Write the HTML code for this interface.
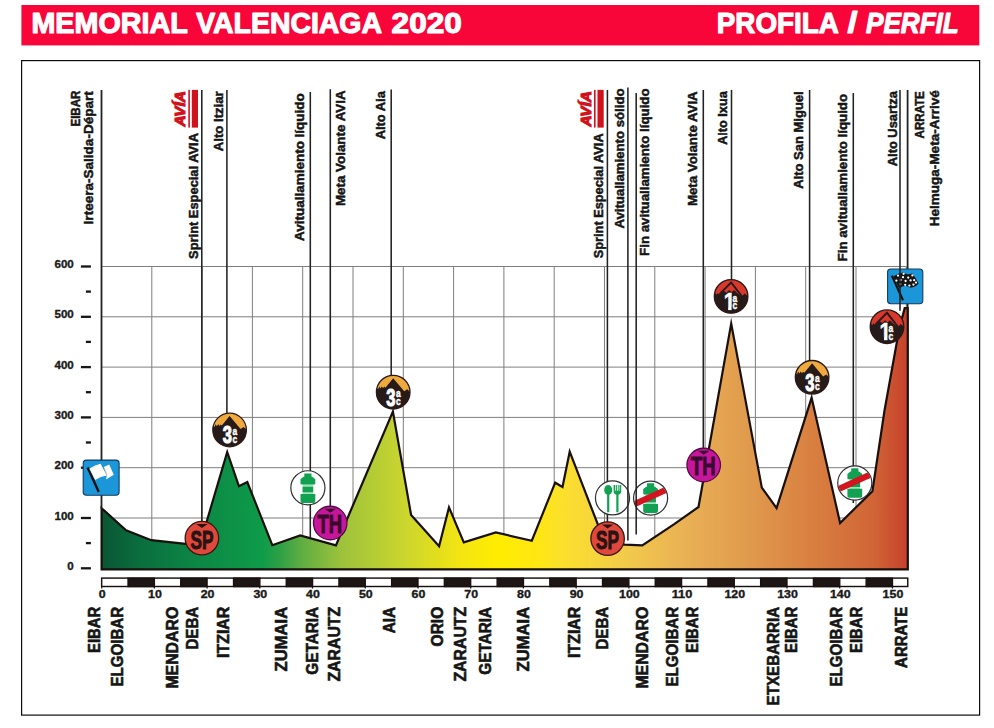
<!DOCTYPE html>
<html lang="eu">
<head>
<meta charset="utf-8">
<title>Memorial Valenciaga 2020 - Profila / Perfil</title>
<style>
html,body{margin:0;padding:0;background:#fff;}
body{width:994px;height:728px;overflow:hidden;font-family:"Liberation Sans", sans-serif;}
svg{display:block;font-family:"Liberation Sans", sans-serif;}
svg text{font-family:"Liberation Sans", sans-serif;}
</style>
</head>
<body>
<svg width="994" height="728" viewBox="0 0 994 728">
<rect width="994" height="728" fill="#fff"/>
<rect x="21.4" y="5" width="957.9" height="40.4" fill="#f8053a"/>
<text x="31.4" y="33.45" font-size="29.8" font-weight="700" fill="#fff" stroke="#fff" stroke-width="1.2" stroke-linejoin="round" textLength="156.4" lengthAdjust="spacingAndGlyphs">MEMORIAL</text>
<text x="196.2" y="33.45" font-size="29.8" font-weight="700" fill="#fff" stroke="#fff" stroke-width="1.2" stroke-linejoin="round" textLength="185.8" lengthAdjust="spacingAndGlyphs">VALENCIAGA</text>
<text x="391.6" y="33.45" font-size="29.8" font-weight="700" fill="#fff" stroke="#fff" stroke-width="1.2" stroke-linejoin="round" textLength="70.2" lengthAdjust="spacingAndGlyphs">2020</text>
<text x="716.8" y="33.45" font-size="29.8" font-weight="700" fill="#fff" stroke="#fff" stroke-width="1.2" stroke-linejoin="round" textLength="122.0" lengthAdjust="spacingAndGlyphs">PROFILA</text>
<text x="847.4" y="33.45" font-size="29.8" font-weight="700" fill="#fff" stroke="#fff" stroke-width="1.2" stroke-linejoin="round" textLength="10.0" lengthAdjust="spacingAndGlyphs">/</text>
<text x="866.0" y="33.45" font-size="29.8" font-weight="700" font-style="italic" fill="#fff" stroke="#fff" stroke-width="1.2" stroke-linejoin="round" textLength="92.8" lengthAdjust="spacingAndGlyphs">PERFIL</text>
<rect x="21.6" y="60.6" width="958" height="654.5" fill="#fff" stroke="#0c0c0c" stroke-width="1.2"/>
<path d="M101.5 266.5H906.3M101.5 316.8H906.3M101.5 367.1H906.3M101.5 417.4H906.3M101.5 467.7H906.3M101.5 518.0H906.3M101.5 568.3H906.3M101.5 266.5V568.3M151.8 266.5V568.3M202.1 266.5V568.3M252.4 266.5V568.3M302.7 266.5V568.3M353.0 266.5V568.3M403.3 266.5V568.3M453.6 266.5V568.3M503.9 266.5V568.3M554.2 266.5V568.3M604.5 266.5V568.3M654.8 266.5V568.3M705.1 266.5V568.3M755.4 266.5V568.3M805.7 266.5V568.3M856.0 266.5V568.3M906.3 266.5V568.3" stroke="#7e7e7e" stroke-width="1" fill="none"/>
<defs><linearGradient id="pg" gradientUnits="userSpaceOnUse" x1="101.5" y1="0" x2="908" y2="0">
<stop offset="-0.0006" stop-color="#0a5634"/>
<stop offset="0.0477" stop-color="#0a6e3e"/>
<stop offset="0.1221" stop-color="#0c8845"/>
<stop offset="0.1990" stop-color="#0e9b49"/>
<stop offset="0.2213" stop-color="#2fa046"/>
<stop offset="0.2474" stop-color="#5ead42"/>
<stop offset="0.2970" stop-color="#9cc23b"/>
<stop offset="0.3726" stop-color="#c9d52f"/>
<stop offset="0.4470" stop-color="#f4e512"/>
<stop offset="0.4916" stop-color="#ffed00"/>
<stop offset="0.5437" stop-color="#fee614"/>
<stop offset="0.5710" stop-color="#fbe02c"/>
<stop offset="0.6479" stop-color="#f2cb4a"/>
<stop offset="0.7260" stop-color="#e9b055"/>
<stop offset="0.8029" stop-color="#e09a4d"/>
<stop offset="0.8797" stop-color="#d98041"/>
<stop offset="0.9566" stop-color="#d06536"/>
<stop offset="1.0000" stop-color="#c6402b"/>
</linearGradient></defs>
<polygon points="101.6,508.2 126.1,530.4 151.3,540.2 185.6,543.8 200.0,544.2 227.2,452.0 238.9,486.2 247.3,482.0 272.3,545.2 300.2,535.4 335.9,545.4 392.9,411.5 411.1,515.0 439.1,546.3 449.0,507.4 463.8,542.4 495.8,532.5 531.8,540.7 555.2,482.7 562.5,487.0 569.7,451.7 605.0,543.0 625.0,544.7 642.3,545.3 674.6,523.9 698.5,507.0 731.2,323.6 761.8,487.6 776.6,508.1 811.6,397.8 840.1,523.0 872.4,491.2 884.6,410.0 899.4,328.0 904.7,308.2 907.8,308.2 907.8,569.4 101.6,569.4" fill="url(#pg)" stroke="#17100d" stroke-width="2.2" stroke-linejoin="miter" stroke-miterlimit="6"/>
<text x="73.8" y="569.9" font-size="11.6" font-weight="700" fill="#1a1a1a" stroke="#1a1a1a" stroke-width="0.35" text-anchor="end">0</text>
<path d="M80.9 568.3H90.9" stroke="#151515" stroke-width="2.3"/>
<path d="M85.9 543.1H90.9" stroke="#151515" stroke-width="2.3"/>
<text x="73.8" y="519.6" font-size="11.6" font-weight="700" fill="#1a1a1a" stroke="#1a1a1a" stroke-width="0.35" text-anchor="end">100</text>
<path d="M80.9 518.0H90.9" stroke="#151515" stroke-width="2.3"/>
<path d="M85.9 492.9H90.9" stroke="#151515" stroke-width="2.3"/>
<text x="73.8" y="469.3" font-size="11.6" font-weight="700" fill="#1a1a1a" stroke="#1a1a1a" stroke-width="0.35" text-anchor="end">200</text>
<path d="M80.9 467.7H90.9" stroke="#151515" stroke-width="2.3"/>
<path d="M85.9 442.5H90.9" stroke="#151515" stroke-width="2.3"/>
<text x="73.8" y="419.0" font-size="11.6" font-weight="700" fill="#1a1a1a" stroke="#1a1a1a" stroke-width="0.35" text-anchor="end">300</text>
<path d="M80.9 417.4H90.9" stroke="#151515" stroke-width="2.3"/>
<path d="M85.9 392.2H90.9" stroke="#151515" stroke-width="2.3"/>
<text x="73.8" y="368.7" font-size="11.6" font-weight="700" fill="#1a1a1a" stroke="#1a1a1a" stroke-width="0.35" text-anchor="end">400</text>
<path d="M80.9 367.1H90.9" stroke="#151515" stroke-width="2.3"/>
<path d="M85.9 341.9H90.9" stroke="#151515" stroke-width="2.3"/>
<text x="73.8" y="318.4" font-size="11.6" font-weight="700" fill="#1a1a1a" stroke="#1a1a1a" stroke-width="0.35" text-anchor="end">500</text>
<path d="M80.9 316.8H90.9" stroke="#151515" stroke-width="2.3"/>
<path d="M85.9 291.6H90.9" stroke="#151515" stroke-width="2.3"/>
<text x="73.8" y="268.1" font-size="11.6" font-weight="700" fill="#1a1a1a" stroke="#1a1a1a" stroke-width="0.35" text-anchor="end">600</text>
<path d="M80.9 266.5H90.9" stroke="#151515" stroke-width="2.3"/>
<path d="M101.5 90.0V509.0" stroke="#222" stroke-width="1.8" fill="none"/>
<path d="M201.8 90.0V522.0" stroke="#222" stroke-width="1.55" fill="none"/>
<path d="M226.9 90.0V414.0" stroke="#222" stroke-width="1.55" fill="none"/>
<path d="M310.3 92.0V538.0" stroke="#222" stroke-width="1.55" fill="none"/>
<path d="M330.3 89.3V507.0" stroke="#222" stroke-width="1.55" fill="none"/>
<path d="M391.2 89.5V376.0" stroke="#222" stroke-width="1.55" fill="none"/>
<path d="M607.4 90.0V522.0" stroke="#222" stroke-width="1.55" fill="none"/>
<path d="M703.3 90.0V449.0" stroke="#222" stroke-width="1.55" fill="none"/>
<path d="M731.5 90.0V280.0" stroke="#222" stroke-width="1.55" fill="none"/>
<path d="M809.6 90.0V362.0" stroke="#222" stroke-width="1.55" fill="none"/>
<path d="M853.3 92.9V503.0" stroke="#222" stroke-width="1.55" fill="none"/>
<path d="M907.6 90.0V309.0" stroke="#222" stroke-width="1.8" fill="none"/>
<g transform="translate(83.2 460.1)"><rect width="35.9" height="35.2" rx="3.2" fill="#1b96d8" stroke="#143a5e" stroke-width="1.1"/><path d="M4.4 7.4L15.6 32" stroke="#111" stroke-width="2.4" fill="none"/><path d="M6.2 8.6Q12 4.6 17.4 3.6L23.6 15.4Q17.6 16.4 12 19.8Z" fill="#fff"/><path d="M20.6 6.8L26 4.4L30.6 14.6L22.8 19.4L23.6 15.4Z" fill="#fff"/><path d="M20.8 7.4L24 15.2" stroke="#c9a79a" stroke-width="0.7" fill="none"/></g>
<g transform="translate(887.6 269)"><rect width="35.2" height="34.7" rx="3.2" fill="#1b96d8" stroke="#143a5e" stroke-width="1.1"/><path d="M4.2 6.6L15.4 31.2" stroke="#111" stroke-width="2.2" fill="none"/><path d="M5.6 7.6Q11 4 15.4 3.4Q20 6.4 24.6 4.2Q28.6 9.4 31 14.6Q26.6 19.4 22 18.4Q17.4 14.6 11.6 19.6Z" fill="#151515"/><circle cx="10.4" cy="6.6" r="1.15" fill="#fff"/><circle cx="15.4" cy="8.2" r="1.15" fill="#fff"/><circle cx="13" cy="11" r="1.15" fill="#fff"/><circle cx="8.8" cy="11.6" r="1.15" fill="#fff"/><circle cx="18" cy="12" r="1.15" fill="#fff"/><circle cx="20.6" cy="8.6" r="1.15" fill="#fff"/><circle cx="24.8" cy="6.4" r="1.15" fill="#fff"/><circle cx="23" cy="11.4" r="1.15" fill="#fff"/><circle cx="26.6" cy="11.2" r="1.15" fill="#fff"/><circle cx="12.6" cy="15.2" r="1.15" fill="#fff"/><circle cx="17.6" cy="15.8" r="1.15" fill="#fff"/><circle cx="21.8" cy="16.6" r="1.15" fill="#fff"/><circle cx="25.8" cy="15.6" r="1.15" fill="#fff"/><circle cx="28.4" cy="13.6" r="1.15" fill="#fff"/><circle cx="16" cy="4.8" r="1.15" fill="#fff"/></g>
<g transform="translate(229.6 430.0)"><clipPath id="c229"><circle r="16.8"/></clipPath><circle r="16.8" fill="#f0a93c"/><g clip-path="url(#c229)"><path d="M-18 -2 L-16.2 -4 L-15.1 -2.9 L-14 -5.7 L-12.7 -3.8 L-11.4 -5.9 L-10.2 -4 L-9 -5.6 L-7.8 -4.5 L0 -14 L11 -0.9 L14.1 -2.9 L18 0.8 V19 H-18Z" fill="#271b1a"/></g><circle r="16.8" fill="none" stroke="#2a1a17" stroke-width="1.3"/><text x="-6.9" y="13.3" font-size="23.6" font-weight="700" fill="#fff" stroke="#fff" stroke-width="1.1" stroke-linejoin="round" textLength="9.2" lengthAdjust="spacingAndGlyphs">3</text><text x="2.8" y="4.6" font-size="10.2" font-weight="700" fill="#fff" stroke="#fff" stroke-width="0.4" stroke-linejoin="round" textLength="4.7" lengthAdjust="spacingAndGlyphs">a</text><text x="2.8" y="12.5" font-size="10.2" font-weight="700" fill="#fff" stroke="#fff" stroke-width="0.4" stroke-linejoin="round" textLength="4.7" lengthAdjust="spacingAndGlyphs">c</text></g>
<g transform="translate(393.2 392.2)"><clipPath id="c393"><circle r="16.8"/></clipPath><circle r="16.8" fill="#f0a93c"/><g clip-path="url(#c393)"><path d="M-18 -2 L-16.2 -4 L-15.1 -2.9 L-14 -5.7 L-12.7 -3.8 L-11.4 -5.9 L-10.2 -4 L-9 -5.6 L-7.8 -4.5 L0 -14 L11 -0.9 L14.1 -2.9 L18 0.8 V19 H-18Z" fill="#271b1a"/></g><circle r="16.8" fill="none" stroke="#2a1a17" stroke-width="1.3"/><text x="-6.9" y="13.3" font-size="23.6" font-weight="700" fill="#fff" stroke="#fff" stroke-width="1.1" stroke-linejoin="round" textLength="9.2" lengthAdjust="spacingAndGlyphs">3</text><text x="2.8" y="4.6" font-size="10.2" font-weight="700" fill="#fff" stroke="#fff" stroke-width="0.4" stroke-linejoin="round" textLength="4.7" lengthAdjust="spacingAndGlyphs">a</text><text x="2.8" y="12.5" font-size="10.2" font-weight="700" fill="#fff" stroke="#fff" stroke-width="0.4" stroke-linejoin="round" textLength="4.7" lengthAdjust="spacingAndGlyphs">c</text></g>
<g transform="translate(812.1 377.3)"><clipPath id="c812"><circle r="16.8"/></clipPath><circle r="16.8" fill="#f0a93c"/><g clip-path="url(#c812)"><path d="M-18 -2 L-16.2 -4 L-15.1 -2.9 L-14 -5.7 L-12.7 -3.8 L-11.4 -5.9 L-10.2 -4 L-9 -5.6 L-7.8 -4.5 L0 -14 L11 -0.9 L14.1 -2.9 L18 0.8 V19 H-18Z" fill="#271b1a"/></g><circle r="16.8" fill="none" stroke="#2a1a17" stroke-width="1.3"/><text x="-6.9" y="13.3" font-size="23.6" font-weight="700" fill="#fff" stroke="#fff" stroke-width="1.1" stroke-linejoin="round" textLength="9.2" lengthAdjust="spacingAndGlyphs">3</text><text x="2.8" y="4.6" font-size="10.2" font-weight="700" fill="#fff" stroke="#fff" stroke-width="0.4" stroke-linejoin="round" textLength="4.7" lengthAdjust="spacingAndGlyphs">a</text><text x="2.8" y="12.5" font-size="10.2" font-weight="700" fill="#fff" stroke="#fff" stroke-width="0.4" stroke-linejoin="round" textLength="4.7" lengthAdjust="spacingAndGlyphs">c</text></g>
<g transform="translate(731.1 296.4)"><clipPath id="c731"><circle r="16.8"/></clipPath><circle r="16.8" fill="#da382c"/><g clip-path="url(#c731)"><path d="M-18 -1.4 L-15.6 -2.8 L-14.6 -1.6 L-13.4 -3.4 L-12.4 -2.2 L-11.2 -4 L-10 -3 L-7.4 -5.6 L-4.6 -3.6 L-2 -6.4 L0.6 -4.4 L3 -6.4 L6 -3.4 L10.6 0.2 L13.7 -2.8 L18 0.8 V19 H-18Z" fill="#271b1a"/><path d="M-10.6 -3.2 L0 -13.9 L11 0.2" fill="none" stroke="#271b1a" stroke-width="1.9" stroke-linejoin="miter"/></g><circle r="16.8" fill="none" stroke="#2a1a17" stroke-width="1.3"/><clipPath id="k731"><rect x="-9" y="-6" width="10" height="16.4"/><rect x="-2.95" y="10" width="3.4" height="4"/></clipPath><text clip-path="url(#k731)" x="-7.44" y="13.15" font-size="23.6" font-weight="700" fill="#fff" stroke="#fff" stroke-width="0.5" textLength="11.4" lengthAdjust="spacingAndGlyphs">1</text><text x="1.5" y="5.3" font-size="10.2" font-weight="700" fill="#fff" stroke="#fff" stroke-width="0.4" stroke-linejoin="round" textLength="4.7" lengthAdjust="spacingAndGlyphs">a</text><text x="1.5" y="13.1" font-size="10.2" font-weight="700" fill="#fff" stroke="#fff" stroke-width="0.4" stroke-linejoin="round" textLength="4.7" lengthAdjust="spacingAndGlyphs">c</text></g>
<g transform="translate(887.0 326.7)"><clipPath id="c887"><circle r="16.8"/></clipPath><circle r="16.8" fill="#da382c"/><g clip-path="url(#c887)"><path d="M-18 -1.4 L-15.6 -2.8 L-14.6 -1.6 L-13.4 -3.4 L-12.4 -2.2 L-11.2 -4 L-10 -3 L-7.4 -5.6 L-4.6 -3.6 L-2 -6.4 L0.6 -4.4 L3 -6.4 L6 -3.4 L10.6 0.2 L13.7 -2.8 L18 0.8 V19 H-18Z" fill="#271b1a"/><path d="M-10.6 -3.2 L0 -13.9 L11 0.2" fill="none" stroke="#271b1a" stroke-width="1.9" stroke-linejoin="miter"/></g><circle r="16.8" fill="none" stroke="#2a1a17" stroke-width="1.3"/><clipPath id="k887"><rect x="-9" y="-6" width="10" height="16.4"/><rect x="-2.95" y="10" width="3.4" height="4"/></clipPath><text clip-path="url(#k887)" x="-7.44" y="13.15" font-size="23.6" font-weight="700" fill="#fff" stroke="#fff" stroke-width="0.5" textLength="11.4" lengthAdjust="spacingAndGlyphs">1</text><text x="1.5" y="5.3" font-size="10.2" font-weight="700" fill="#fff" stroke="#fff" stroke-width="0.4" stroke-linejoin="round" textLength="4.7" lengthAdjust="spacingAndGlyphs">a</text><text x="1.5" y="13.1" font-size="10.2" font-weight="700" fill="#fff" stroke="#fff" stroke-width="0.4" stroke-linejoin="round" textLength="4.7" lengthAdjust="spacingAndGlyphs">c</text></g>
<g transform="translate(307.9 487.8)"><circle r="17.05" fill="#fff" stroke="#2e2e2e" stroke-width="1.2"/><path d="M-5.3 -3.6H5.3V6.6H-5.3Z" fill="#9fe3bd"/><path d="M-3.6 -14.4H3.6V-10.6H-3.6ZM-4.4 -11H4.4L7.4 -8.6V-4.2Q7.4 -3.3 6.4 -3.3H-6.4Q-7.4 -3.3 -7.4 -4.2V-8.6ZM-5.3 -1H5.3V4.5H-5.3ZM-7.4 6.2H7.4V13.4Q7.4 15.2 5.6 15.2H-5.6Q-7.4 15.2 -7.4 13.4Z" fill="#12a150"/></g>
<g transform="translate(612.5 497.9)"><circle r="17.05" fill="#fff" stroke="#2e2e2e" stroke-width="1.2"/><ellipse cx="-4.3" cy="-7.9" rx="4" ry="4.9" fill="#12a150"/><path d="M-4.3 -4V14.3" stroke="#12a150" stroke-width="2.2" fill="none"/><path d="M1.1 -12.8H2.8V-7.2H3.6V-12.8H4.5V-7.2H5.3V-12.8H6.2V-7.2H7V-12.8H8.7V-7.4Q8.7 -3.6 6 -3.2V14.3H3.8V-3.2Q1.1 -3.6 1.1 -7.4Z" fill="#12a150"/></g>
<g transform="translate(650.6 498.1)"><circle r="17.05" fill="#fff" stroke="#2e2e2e" stroke-width="1.2"/><clipPath id="b650"><circle r="16.55"/></clipPath><g transform="translate(0 -0.4)"><path d="M-5.3 -3.6H5.3V6.6H-5.3Z" fill="#9fe3bd"/><path d="M-3.6 -14.4H3.6V-10.6H-3.6ZM-4.4 -11H4.4L7.4 -8.6V-4.2Q7.4 -3.3 6.4 -3.3H-6.4Q-7.4 -3.3 -7.4 -4.2V-8.6ZM-5.3 -1H5.3V4.5H-5.3ZM-7.4 6.2H7.4V13.4Q7.4 15.2 5.6 15.2H-5.6Q-7.4 15.2 -7.4 13.4Z" fill="#12a150"/></g><path clip-path="url(#b650)" d="M-18.2 7L18.2 -9.6" stroke="#d2151f" stroke-width="6.1" fill="none"/></g>
<g transform="translate(854.8 483.0)"><circle r="17.05" fill="#fff" stroke="#2e2e2e" stroke-width="1.2"/><clipPath id="b854"><circle r="16.55"/></clipPath><g transform="translate(0 -0.4)"><path d="M-5.3 -3.6H5.3V6.6H-5.3Z" fill="#9fe3bd"/><path d="M-3.6 -14.4H3.6V-10.6H-3.6ZM-4.4 -11H4.4L7.4 -8.6V-4.2Q7.4 -3.3 6.4 -3.3H-6.4Q-7.4 -3.3 -7.4 -4.2V-8.6ZM-5.3 -1H5.3V4.5H-5.3ZM-7.4 6.2H7.4V13.4Q7.4 15.2 5.6 15.2H-5.6Q-7.4 15.2 -7.4 13.4Z" fill="#12a150"/></g><path clip-path="url(#b854)" d="M-18.2 7L18.2 -9.6" stroke="#d2151f" stroke-width="6.1" fill="none"/></g>
<g transform="translate(201.9 538.2)"><circle r="16.75" fill="#e0483b" stroke="#3a1712" stroke-width="1.3"/><path d="M-5.8 -14.2H5.8L0 -10.2Z" fill="#2a1413"/><text x="-11.5" y="10.4" font-size="25.8" font-weight="700" fill="#2a1413" stroke="#2a1413" stroke-width="1" stroke-linejoin="round" textLength="23.0" lengthAdjust="spacingAndGlyphs">SP</text></g>
<g transform="translate(607.6 538.6)"><circle r="16.75" fill="#e0483b" stroke="#3a1712" stroke-width="1.3"/><path d="M-5.8 -14.2H5.8L0 -10.2Z" fill="#2a1413"/><text x="-11.5" y="10.4" font-size="25.8" font-weight="700" fill="#2a1413" stroke="#2a1413" stroke-width="1" stroke-linejoin="round" textLength="23.0" lengthAdjust="spacingAndGlyphs">SP</text></g>
<g transform="translate(330.2 523.0)"><circle r="16.75" fill="#c6169b" stroke="#560a45" stroke-width="1.3"/><path d="M-5.8 -14.2H5.8L0 -10.2Z" fill="#3a0a2e"/><text x="-12.8" y="10.4" font-size="25.8" font-weight="700" fill="#3a0a2e" stroke="#3a0a2e" stroke-width="1" stroke-linejoin="round" textLength="24.6" lengthAdjust="spacingAndGlyphs">TH</text></g>
<g transform="translate(703.7 465.0)"><circle r="16.75" fill="#c6169b" stroke="#560a45" stroke-width="1.3"/><path d="M-5.8 -14.2H5.8L0 -10.2Z" fill="#3a0a2e"/><text x="-12.8" y="10.4" font-size="25.8" font-weight="700" fill="#3a0a2e" stroke="#3a0a2e" stroke-width="1" stroke-linejoin="round" textLength="24.6" lengthAdjust="spacingAndGlyphs">TH</text></g>
<path d="M627.9 87.4V540.5" stroke="#222" stroke-width="1.55" fill="none"/>
<path d="M636.2 92.9V534.5" stroke="#222" stroke-width="1.55" fill="none"/>
<path d="M900.0 90.0V310.8" stroke="#222" stroke-width="1.55" fill="none"/>
<rect x="101.65" y="578.1" width="806.10" height="8.4" fill="#fff" stroke="#17100f" stroke-width="1.45"/>
<path d="M128.0 578.1h26.4v8.4h-26.4zM180.7 578.1h26.4v8.4h-26.4zM233.5 578.1h26.4v8.4h-26.4zM286.2 578.1h26.4v8.4h-26.4zM338.9 578.1h26.4v8.4h-26.4zM391.6 578.1h26.4v8.4h-26.4zM444.3 578.1h26.4v8.4h-26.4zM497.1 578.1h26.4v8.4h-26.4zM549.8 578.1h26.4v8.4h-26.4zM602.5 578.1h26.4v8.4h-26.4zM655.2 578.1h26.4v8.4h-26.4zM707.9 578.1h26.4v8.4h-26.4zM760.6 578.1h26.4v8.4h-26.4zM813.4 578.1h26.4v8.4h-26.4zM866.1 578.1h26.4v8.4h-26.4z" fill="#1d1615" stroke="#17100f" stroke-width="1.3"/>
<path d="M101.7 586.5v2M154.4 586.5v2M207.1 586.5v2M259.8 586.5v2M312.5 586.5v2M365.2 586.5v2M418.0 586.5v2M470.7 586.5v2M523.4 586.5v2M576.1 586.5v2M628.9 586.5v2M681.6 586.5v2M734.3 586.5v2M787.0 586.5v2M839.7 586.5v2M892.5 586.5v2" stroke="#17100f" stroke-width="1.2" fill="none"/>
<text x="98.7" y="597.75" font-size="10.3" font-weight="700" fill="#1a1a1a" stroke="#1a1a1a" stroke-width="0.35" textLength="6.9" lengthAdjust="spacingAndGlyphs">0</text>
<text x="148.0" y="597.75" font-size="10.3" font-weight="700" fill="#1a1a1a" stroke="#1a1a1a" stroke-width="0.35" textLength="13.8" lengthAdjust="spacingAndGlyphs">10</text>
<text x="200.7" y="597.75" font-size="10.3" font-weight="700" fill="#1a1a1a" stroke="#1a1a1a" stroke-width="0.35" textLength="13.8" lengthAdjust="spacingAndGlyphs">20</text>
<text x="253.4" y="597.75" font-size="10.3" font-weight="700" fill="#1a1a1a" stroke="#1a1a1a" stroke-width="0.35" textLength="13.8" lengthAdjust="spacingAndGlyphs">30</text>
<text x="306.1" y="597.75" font-size="10.3" font-weight="700" fill="#1a1a1a" stroke="#1a1a1a" stroke-width="0.35" textLength="13.8" lengthAdjust="spacingAndGlyphs">40</text>
<text x="358.9" y="597.75" font-size="10.3" font-weight="700" fill="#1a1a1a" stroke="#1a1a1a" stroke-width="0.35" textLength="13.8" lengthAdjust="spacingAndGlyphs">50</text>
<text x="411.6" y="597.75" font-size="10.3" font-weight="700" fill="#1a1a1a" stroke="#1a1a1a" stroke-width="0.35" textLength="13.8" lengthAdjust="spacingAndGlyphs">60</text>
<text x="464.3" y="597.75" font-size="10.3" font-weight="700" fill="#1a1a1a" stroke="#1a1a1a" stroke-width="0.35" textLength="13.8" lengthAdjust="spacingAndGlyphs">70</text>
<text x="517.0" y="597.75" font-size="10.3" font-weight="700" fill="#1a1a1a" stroke="#1a1a1a" stroke-width="0.35" textLength="13.8" lengthAdjust="spacingAndGlyphs">80</text>
<text x="569.7" y="597.75" font-size="10.3" font-weight="700" fill="#1a1a1a" stroke="#1a1a1a" stroke-width="0.35" textLength="13.8" lengthAdjust="spacingAndGlyphs">90</text>
<text x="619.0" y="597.75" font-size="10.3" font-weight="700" fill="#1a1a1a" stroke="#1a1a1a" stroke-width="0.35" textLength="20.7" lengthAdjust="spacingAndGlyphs">100</text>
<text x="671.7" y="597.75" font-size="10.3" font-weight="700" fill="#1a1a1a" stroke="#1a1a1a" stroke-width="0.35" textLength="20.7" lengthAdjust="spacingAndGlyphs">110</text>
<text x="724.4" y="597.75" font-size="10.3" font-weight="700" fill="#1a1a1a" stroke="#1a1a1a" stroke-width="0.35" textLength="20.7" lengthAdjust="spacingAndGlyphs">120</text>
<text x="777.2" y="597.75" font-size="10.3" font-weight="700" fill="#1a1a1a" stroke="#1a1a1a" stroke-width="0.35" textLength="20.7" lengthAdjust="spacingAndGlyphs">130</text>
<text x="829.9" y="597.75" font-size="10.3" font-weight="700" fill="#1a1a1a" stroke="#1a1a1a" stroke-width="0.35" textLength="20.7" lengthAdjust="spacingAndGlyphs">140</text>
<text x="882.6" y="597.75" font-size="10.3" font-weight="700" fill="#1a1a1a" stroke="#1a1a1a" stroke-width="0.35" textLength="20.7" lengthAdjust="spacingAndGlyphs">150</text>
<text transform="translate(79.75 126.5) rotate(-90)" font-size="13.4" font-weight="700" fill="#151515" stroke="#151515" stroke-width="0.5" stroke-linejoin="round" textLength="35.8" lengthAdjust="spacingAndGlyphs">EIBAR</text>
<text transform="translate(93.25 224.4) rotate(-90)" font-size="13.4" font-weight="700" fill="#151515" stroke="#151515" stroke-width="0.5" stroke-linejoin="round" textLength="133.2" lengthAdjust="spacingAndGlyphs">Irteera-Salida-Départ</text>
<text transform="translate(197.65 258.9) rotate(-90)" font-size="13.4" font-weight="700" fill="#151515" stroke="#151515" stroke-width="0.5" stroke-linejoin="round" textLength="125.9" lengthAdjust="spacingAndGlyphs">Sprint Especial AVIA</text>
<text transform="translate(223.45 151.2) rotate(-90)" font-size="13.4" font-weight="700" fill="#151515" stroke="#151515" stroke-width="0.5" stroke-linejoin="round" textLength="59.9" lengthAdjust="spacingAndGlyphs">Alto Itziar</text>
<text transform="translate(303.95 241.0) rotate(-90)" font-size="13.4" font-weight="700" fill="#151515" stroke="#151515" stroke-width="0.5" stroke-linejoin="round" textLength="147.8" lengthAdjust="spacingAndGlyphs">Avituallamiento líquido</text>
<text transform="translate(345.15 206.1) rotate(-90)" font-size="13.4" font-weight="700" fill="#151515" stroke="#151515" stroke-width="0.5" stroke-linejoin="round" textLength="115.7" lengthAdjust="spacingAndGlyphs">Meta Volante AVIA</text>
<text transform="translate(384.95 139.3) rotate(-90)" font-size="13.4" font-weight="700" fill="#151515" stroke="#151515" stroke-width="0.5" stroke-linejoin="round" textLength="48.1" lengthAdjust="spacingAndGlyphs">Alto Aia</text>
<text transform="translate(603.15 258.2) rotate(-90)" font-size="13.4" font-weight="700" fill="#151515" stroke="#151515" stroke-width="0.5" stroke-linejoin="round" textLength="124.8" lengthAdjust="spacingAndGlyphs">Sprint Especial AVIA</text>
<text transform="translate(624.35 228.6) rotate(-90)" font-size="13.4" font-weight="700" fill="#151515" stroke="#151515" stroke-width="0.5" stroke-linejoin="round" textLength="140.1" lengthAdjust="spacingAndGlyphs">Avituallamiento sólido</text>
<text transform="translate(649.05 255.9) rotate(-90)" font-size="13.4" font-weight="700" fill="#151515" stroke="#151515" stroke-width="0.5" stroke-linejoin="round" textLength="167.5" lengthAdjust="spacingAndGlyphs">Fin avituallamiento líquido</text>
<text transform="translate(697.15 206.1) rotate(-90)" font-size="13.4" font-weight="700" fill="#151515" stroke="#151515" stroke-width="0.5" stroke-linejoin="round" textLength="114.8" lengthAdjust="spacingAndGlyphs">Meta Volante AVIA</text>
<text transform="translate(726.75 144.8) rotate(-90)" font-size="13.4" font-weight="700" fill="#151515" stroke="#151515" stroke-width="0.5" stroke-linejoin="round" textLength="53.5" lengthAdjust="spacingAndGlyphs">Alto Ixua</text>
<text transform="translate(803.15 188.8) rotate(-90)" font-size="13.4" font-weight="700" fill="#151515" stroke="#151515" stroke-width="0.5" stroke-linejoin="round" textLength="97.5" lengthAdjust="spacingAndGlyphs">Alto San Miguel</text>
<text transform="translate(847.05 261.4) rotate(-90)" font-size="13.4" font-weight="700" fill="#151515" stroke="#151515" stroke-width="0.5" stroke-linejoin="round" textLength="167.5" lengthAdjust="spacingAndGlyphs">Fin avituallamiento líquido</text>
<text transform="translate(896.55 166.2) rotate(-90)" font-size="13.4" font-weight="700" fill="#151515" stroke="#151515" stroke-width="0.5" stroke-linejoin="round" textLength="75.0" lengthAdjust="spacingAndGlyphs">Alto Usartza</text>
<text transform="translate(923.95 138.4) rotate(-90)" font-size="13.4" font-weight="700" fill="#151515" stroke="#151515" stroke-width="0.5" stroke-linejoin="round" textLength="47.2" lengthAdjust="spacingAndGlyphs">ARRATE</text>
<text transform="translate(938.55 226.3) rotate(-90)" font-size="13.4" font-weight="700" fill="#151515" stroke="#151515" stroke-width="0.5" stroke-linejoin="round" textLength="136.1" lengthAdjust="spacingAndGlyphs">Helmuga-Meta-Arrivé</text>
<text transform="translate(100.30 652.9) rotate(-90)" font-size="16.3" font-weight="700" fill="#151515" stroke="#151515" stroke-width="0.6" stroke-linejoin="round" textLength="46.1" lengthAdjust="spacingAndGlyphs">EIBAR</text>
<text transform="translate(123.00 686.6) rotate(-90)" font-size="16.3" font-weight="700" fill="#151515" stroke="#151515" stroke-width="0.6" stroke-linejoin="round" textLength="79.8" lengthAdjust="spacingAndGlyphs">ELGOIBAR</text>
<text transform="translate(178.30 688.6) rotate(-90)" font-size="16.3" font-weight="700" fill="#151515" stroke="#151515" stroke-width="0.6" stroke-linejoin="round" textLength="81.8" lengthAdjust="spacingAndGlyphs">MENDARO</text>
<text transform="translate(198.40 649.6) rotate(-90)" font-size="16.3" font-weight="700" fill="#151515" stroke="#151515" stroke-width="0.6" stroke-linejoin="round" textLength="42.8" lengthAdjust="spacingAndGlyphs">DEBA</text>
<text transform="translate(228.60 657.9) rotate(-90)" font-size="16.3" font-weight="700" fill="#151515" stroke="#151515" stroke-width="0.6" stroke-linejoin="round" textLength="51.1" lengthAdjust="spacingAndGlyphs">ITZIAR</text>
<text transform="translate(286.80 671.5) rotate(-90)" font-size="16.3" font-weight="700" fill="#151515" stroke="#151515" stroke-width="0.6" stroke-linejoin="round" textLength="64.7" lengthAdjust="spacingAndGlyphs">ZUMAIA</text>
<text transform="translate(317.80 674.8) rotate(-90)" font-size="16.3" font-weight="700" fill="#151515" stroke="#151515" stroke-width="0.6" stroke-linejoin="round" textLength="68.0" lengthAdjust="spacingAndGlyphs">GETARIA</text>
<text transform="translate(340.00 681.6) rotate(-90)" font-size="16.3" font-weight="700" fill="#151515" stroke="#151515" stroke-width="0.6" stroke-linejoin="round" textLength="74.8" lengthAdjust="spacingAndGlyphs">ZARAUTZ</text>
<text transform="translate(395.30 633.3) rotate(-90)" font-size="16.3" font-weight="700" fill="#151515" stroke="#151515" stroke-width="0.6" stroke-linejoin="round" textLength="26.5" lengthAdjust="spacingAndGlyphs">AIA</text>
<text transform="translate(443.10 646.4) rotate(-90)" font-size="16.3" font-weight="700" fill="#151515" stroke="#151515" stroke-width="0.6" stroke-linejoin="round" textLength="39.6" lengthAdjust="spacingAndGlyphs">ORIO</text>
<text transform="translate(465.70 681.6) rotate(-90)" font-size="16.3" font-weight="700" fill="#151515" stroke="#151515" stroke-width="0.6" stroke-linejoin="round" textLength="74.8" lengthAdjust="spacingAndGlyphs">ZARAUTZ</text>
<text transform="translate(490.90 674.8) rotate(-90)" font-size="16.3" font-weight="700" fill="#151515" stroke="#151515" stroke-width="0.6" stroke-linejoin="round" textLength="68.0" lengthAdjust="spacingAndGlyphs">GETARIA</text>
<text transform="translate(528.50 671.5) rotate(-90)" font-size="16.3" font-weight="700" fill="#151515" stroke="#151515" stroke-width="0.6" stroke-linejoin="round" textLength="64.7" lengthAdjust="spacingAndGlyphs">ZUMAIA</text>
<text transform="translate(579.60 657.9) rotate(-90)" font-size="16.3" font-weight="700" fill="#151515" stroke="#151515" stroke-width="0.6" stroke-linejoin="round" textLength="51.1" lengthAdjust="spacingAndGlyphs">ITZIAR</text>
<text transform="translate(607.50 649.6) rotate(-90)" font-size="16.3" font-weight="700" fill="#151515" stroke="#151515" stroke-width="0.6" stroke-linejoin="round" textLength="42.8" lengthAdjust="spacingAndGlyphs">DEBA</text>
<text transform="translate(647.70 688.6) rotate(-90)" font-size="16.3" font-weight="700" fill="#151515" stroke="#151515" stroke-width="0.6" stroke-linejoin="round" textLength="81.8" lengthAdjust="spacingAndGlyphs">MENDARO</text>
<text transform="translate(677.90 686.6) rotate(-90)" font-size="16.3" font-weight="700" fill="#151515" stroke="#151515" stroke-width="0.6" stroke-linejoin="round" textLength="79.8" lengthAdjust="spacingAndGlyphs">ELGOIBAR</text>
<text transform="translate(698.30 652.9) rotate(-90)" font-size="16.3" font-weight="700" fill="#151515" stroke="#151515" stroke-width="0.6" stroke-linejoin="round" textLength="46.1" lengthAdjust="spacingAndGlyphs">EIBAR</text>
<text transform="translate(779.10 705.4) rotate(-90)" font-size="16.3" font-weight="700" fill="#151515" stroke="#151515" stroke-width="0.6" stroke-linejoin="round" textLength="98.6" lengthAdjust="spacingAndGlyphs">ETXEBARRIA</text>
<text transform="translate(796.70 652.9) rotate(-90)" font-size="16.3" font-weight="700" fill="#151515" stroke="#151515" stroke-width="0.6" stroke-linejoin="round" textLength="46.1" lengthAdjust="spacingAndGlyphs">EIBAR</text>
<text transform="translate(842.00 686.6) rotate(-90)" font-size="16.3" font-weight="700" fill="#151515" stroke="#151515" stroke-width="0.6" stroke-linejoin="round" textLength="79.8" lengthAdjust="spacingAndGlyphs">ELGOIBAR</text>
<text transform="translate(862.10 652.9) rotate(-90)" font-size="16.3" font-weight="700" fill="#151515" stroke="#151515" stroke-width="0.6" stroke-linejoin="round" textLength="46.1" lengthAdjust="spacingAndGlyphs">EIBAR</text>
<text transform="translate(907.40 667.9) rotate(-90)" font-size="16.3" font-weight="700" fill="#151515" stroke="#151515" stroke-width="0.6" stroke-linejoin="round" textLength="61.1" lengthAdjust="spacingAndGlyphs">ARRATE</text>
<text transform="translate(184.8 126.6) rotate(-90)" font-size="14.2" font-weight="700" font-style="italic" fill="#d0121c" stroke="#d0121c" stroke-width="1.1" stroke-linejoin="miter" textLength="35.4" lengthAdjust="spacingAndGlyphs">AVÍA</text>
<rect x="188.3" y="89.9" width="1.6" height="37.7" fill="#d0121c"/>
<rect x="191.8" y="89.9" width="6.2" height="37.7" fill="#d0121c"/>
<text transform="translate(590.5 126.6) rotate(-90)" font-size="14.2" font-weight="700" font-style="italic" fill="#d0121c" stroke="#d0121c" stroke-width="1.1" stroke-linejoin="miter" textLength="35.4" lengthAdjust="spacingAndGlyphs">AVÍA</text>
<rect x="594.0" y="89.9" width="1.6" height="37.7" fill="#d0121c"/>
<rect x="597.5" y="89.9" width="6.2" height="37.7" fill="#d0121c"/>
</svg>
</body>
</html>
